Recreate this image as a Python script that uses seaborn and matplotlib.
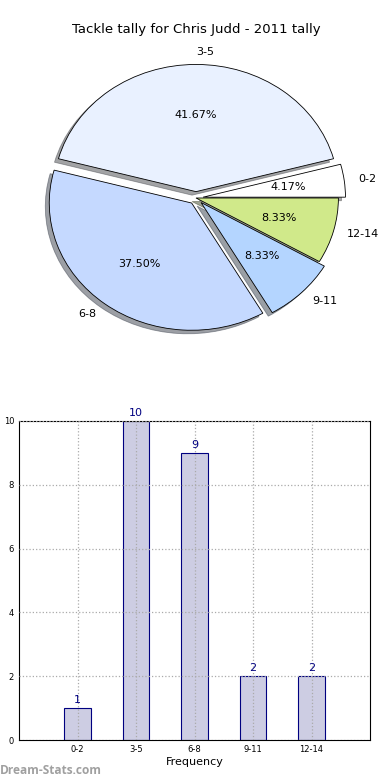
import matplotlib
matplotlib.use("Agg")
import matplotlib.pyplot as plt
import pandas as pd
import seaborn as sns

# tackle ranges and game counts
categories = ["0-2", "3-5", "6-8", "9-11", "12-14"]
games = [1, 10, 9, 2, 2]
pie_colors = ["#ffffff", "#e9f1ff", "#c5d9ff", "#b4d5ff", "#d0e98a"]
pie_explode = [0.05, 0.05, 0.05, 0.05, 0.0]

title = "Tackle tally for Chris Judd - 2011 tally"
y_label = "Number of Games"
x_label = "Frequency"
watermark = "Dream-Stats.com"

sns.set_theme(style="white")
plt.rcParams["font.family"] = ["DejaVu Sans"]
plt.rcParams["text.color"] = "black"
plt.rcParams["xtick.color"] = "black"
plt.rcParams["ytick.color"] = "black"
plt.rcParams["axes.labelcolor"] = "black"

fig = plt.figure(figsize=(3.9, 7.8), dpi=100)
W, H = 390, 780


def box(left, top, right, bottom):
    return [left / W, 1 - bottom / H, (right - left) / W, (bottom - top) / H]


# pie (not equal aspect, like the old stretched chart)
ax1 = fig.add_axes(box(18, 39, 374, 357))
ax1.pie(
    games,
    labels=categories,
    colors=pie_colors,
    explode=pie_explode,
    autopct="%1.2f%%",
    shadow=True,
    startangle=0,
    labeldistance=1.1,
    pctdistance=0.6,
    wedgeprops={"edgecolor": "black", "linewidth": 0.6},
    textprops={"fontsize": 8},
)
ax1.set_aspect("auto")
ax1.set_xlim(-1.25, 1.25)
ax1.set_ylim(-1.25, 1.25)
ax1.axis("off")
fig.text(196 / W, 1 - 30 / H, title, ha="center", va="center", fontsize=9.5)

# bars
ax2 = fig.add_axes(box(19, 421, 370, 740))
df = pd.DataFrame({"range": categories, "games": games})
sns.barplot(
    data=df,
    x="range",
    y="games",
    color="#cdcde3",
    edgecolor="#000080",
    linewidth=0.8,
    width=0.45,
    saturation=1,
    ax=ax2,
)
for i, v in enumerate(games):
    ax2.text(i, v + 0.1, str(v), ha="center", va="bottom", color="#000080", fontsize=8)
ax2.set_xlim(-1, 5)
ax2.set_ylim(0, 10)
ax2.set_yticks(range(0, 11, 2))
ax2.tick_params(labelsize=6, length=2, direction="in")
ax2.grid(True, linestyle=":", color="#aaaaaa", linewidth=0.9)
ax2.set_axisbelow(False)
for s in ax2.spines.values():
    s.set_color("black")
    s.set_linewidth(0.8)
ax2.set_xlabel(x_label, fontsize=8, labelpad=2)
ax2.set_ylabel("")
fig.text(-2 / W, 1 - 580 / H, y_label, rotation=90, ha="center", va="center", fontsize=7)
fig.text(0, 1 - 770 / H, watermark, ha="left", va="center", fontsize=8.6,
         color="#a0a0a0", fontweight="bold", family=["Open Sans", "DejaVu Sans"])

fig.savefig("out.png", dpi=100)
